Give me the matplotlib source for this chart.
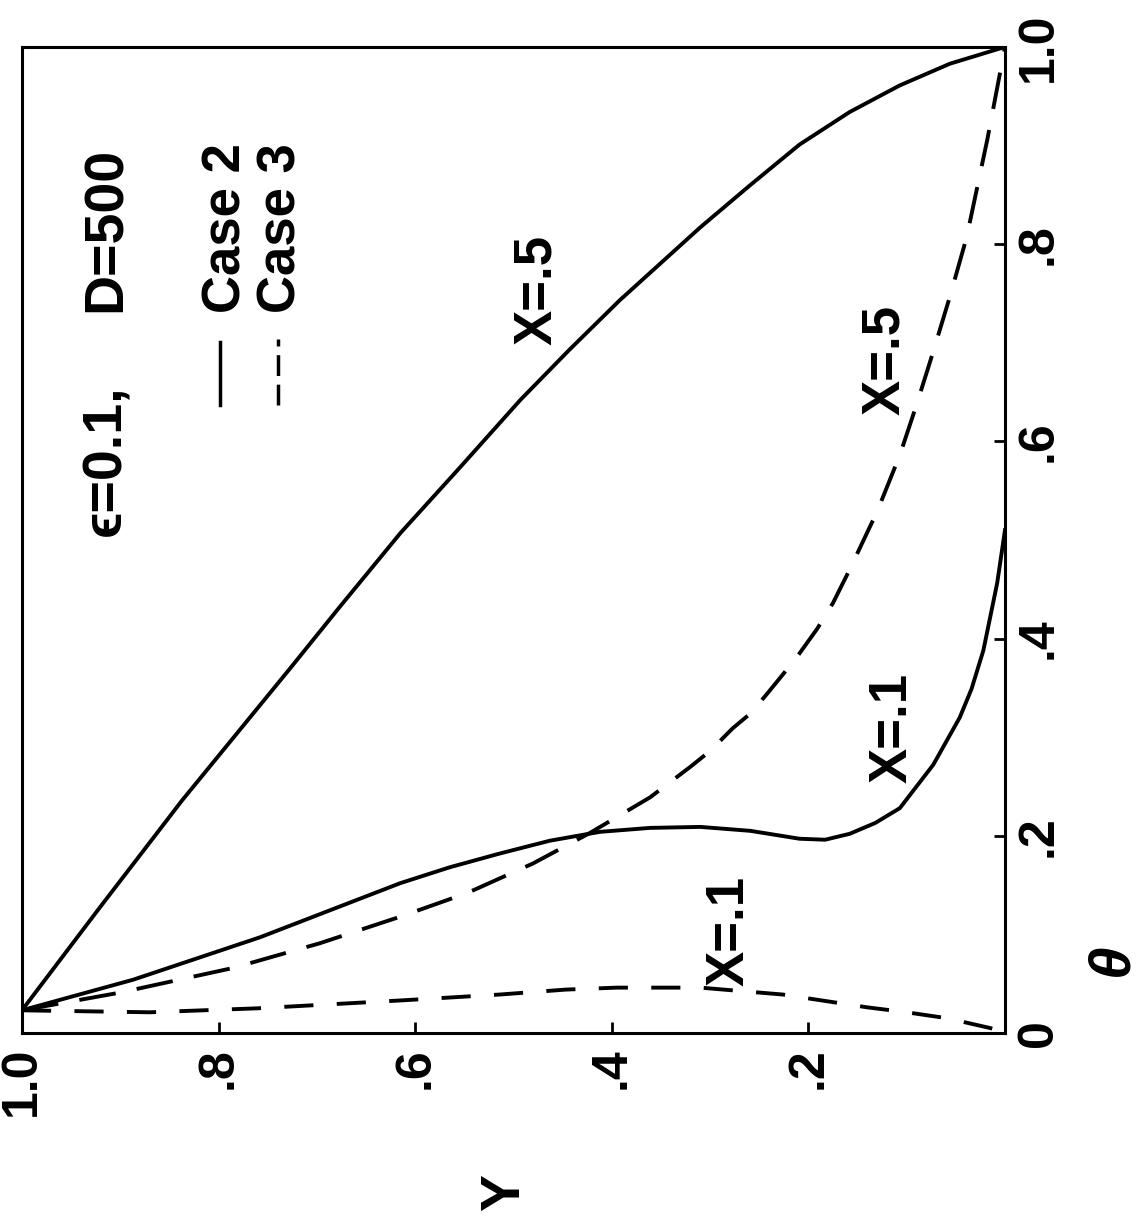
import matplotlib.pyplot as plt

plt.rcParams['font.family'] = ['Liberation Sans', 'DejaVu Sans']
plt.rcParams['font.weight'] = 'bold'

# Case 2 (solid) and Case 3 (dashed): Y vs theta
y_c2_x5 = [1.0, 0.921, 0.837, 0.727, 0.676, 0.615, 0.554, 0.493, 0.443, 0.392,
           0.351, 0.310, 0.259, 0.209, 0.158, 0.107, 0.056, 0.0]
th_c2_x5 = [0.023, 0.127, 0.236, 0.370, 0.433, 0.507, 0.574, 0.642, 0.693, 0.743,
            0.780, 0.817, 0.860, 0.901, 0.934, 0.961, 0.983, 1.0]

y_c2_x1 = [1.0, 0.887, 0.758, 0.615, 0.565, 0.514, 0.463, 0.412, 0.361, 0.310,
           0.259, 0.209, 0.183, 0.158, 0.132, 0.107, 0.073, 0.046, 0.034, 0.022,
           0.008, 0.0]
th_c2_x1 = [0.023, 0.054, 0.097, 0.152, 0.168, 0.182, 0.195, 0.204, 0.208, 0.209,
            0.205, 0.197, 0.196, 0.202, 0.213, 0.228, 0.272, 0.320, 0.349, 0.388,
            0.456, 0.510]

y_c3_x5 = [1.0, 0.900, 0.785, 0.697, 0.615, 0.547, 0.480, 0.422, 0.361, 0.320,
           0.300, 0.277, 0.259, 0.242, 0.224, 0.209, 0.191, 0.175, 0.158, 0.130,
           0.107, 0.090, 0.073, 0.056, 0.039, 0.018, 0.0]
th_c3_x5 = [0.023, 0.041, 0.066, 0.091, 0.118, 0.142, 0.172, 0.203, 0.239, 0.270,
            0.286, 0.309, 0.324, 0.344, 0.366, 0.385, 0.410, 0.436, 0.470, 0.529,
            0.586, 0.637, 0.691, 0.747, 0.807, 0.906, 1.0]

y_c3_x1 = [1.0, 0.870, 0.761, 0.615, 0.514, 0.447, 0.395, 0.310, 0.226, 0.140,
           0.100, 0.059, 0.015, 0.0]
th_c3_x1 = [0.023, 0.021, 0.025, 0.033, 0.039, 0.044, 0.046, 0.046, 0.039, 0.026,
            0.021, 0.015, 0.005, 0.0]

x_ticks = [1.0, 0.8, 0.6, 0.4, 0.2]
x_ticklabels = ['1.0', '.8', '.6', '.4', '.2']
y_ticks = [0.0, 0.2, 0.4, 0.6, 0.8, 1.0]
y_ticklabels = ['0', '.2', '.4', '.6', '.8', '1.0']

fig = plt.figure(figsize=(11.37, 12.16), dpi=100)
ax = fig.add_axes([0.0193, 0.1505, 0.8646, 0.8109])

lw = 2.8
ax.plot(y_c2_x5, th_c2_x5, '-', color='black', lw=lw, solid_joinstyle='round')
ax.plot(y_c2_x1, th_c2_x1, '-', color='black', lw=lw, solid_joinstyle='round')
ax.plot(y_c3_x5, th_c3_x5, color='black', lw=lw, dashes=(9.5, 5.5))
ax.plot(y_c3_x1, th_c3_x1, color='black', lw=lw, dashes=(7.5, 6))

ax.set_xlim(1.0, 0.0)
ax.set_ylim(0.0, 1.0)

# ticks: bottom and right, pointing inward
ax.yaxis.tick_right()
ax.set_xticks(x_ticks)
ax.set_xticklabels(x_ticklabels, rotation=90, fontsize=36)
ax.set_yticks(y_ticks)
ax.set_yticklabels(y_ticklabels, rotation=90, fontsize=36, va='center')
ax.tick_params(axis='x', direction='in', length=8, width=2, pad=10, top=False)
ax.tick_params(axis='y', direction='in', length=8, width=2, pad=8, left=False)
for s in ax.spines.values():
    s.set_linewidth(2.2)

# curve labels
lab_kw = dict(rotation=90, ha='center', va='center', fontsize=38)
ax.text(0.476, 0.754, 'X=.5', **lab_kw)
ax.text(0.122, 0.683, 'X=.5', **lab_kw)
ax.text(0.114, 0.309, 'X=.1', **lab_kw)
ax.text(0.280, 0.104, 'X=.1', **lab_kw)

# parameters and legend
ax.text(0.914, 0.581, 'ϵ=0.1,', rotation=90, ha='center', va='center', fontsize=40)
ax.text(0.914, 0.815, 'D=500', rotation=90, ha='center', va='center', fontsize=40)
ax.text(0.792, 0.816, 'Case 2', rotation=90, ha='center', va='center', fontsize=38)
ax.text(0.736, 0.816, 'Case 3', rotation=90, ha='center', va='center', fontsize=38)
ax.plot([0.799, 0.799], [0.637, 0.701], '-', color='black', lw=2.5)
ax.plot([0.740, 0.740], [0.637, 0.704], color='black', lw=2.5, dashes=(6, 2.5))

# axis titles
fig.text(0.444, 0.0197, 'Y', rotation=90, ha='center', va='center', fontsize=40)
fig.text(0.978, 0.2105, 'θ', rotation=90, ha='center', va='center', fontsize=42,
         style='italic')

fig.savefig('out.png', dpi=100)
